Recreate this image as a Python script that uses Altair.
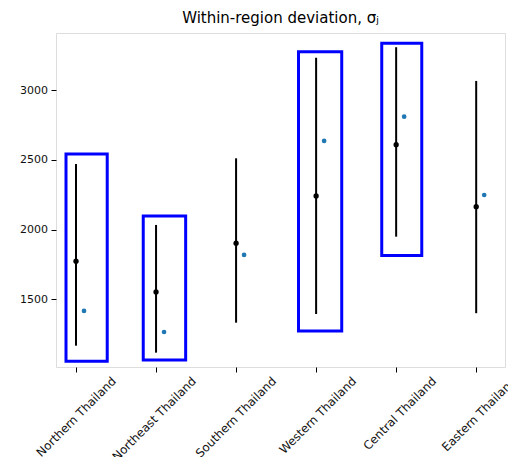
import altair as alt
import pandas as pd

regions = ["Northern Thailand", "Northeast Thailand", "Southern Thailand",
           "Western Thailand", "Central Thailand", "Eastern Thailand"]
means = [1773, 1552, 1902, 2241, 2609, 2164]
lows = [1167, 1117, 1332, 1395, 1949, 1400]
highs = [2470, 2033, 2511, 3233, 3308, 3066]
observed = [1416, 1265, 1818, 2636, 2810, 2248]

box_left = [-0.125, 0.84, 2.78, 3.82]
box_right = [0.39, 1.37, 3.32, 4.32]
box_bottom = [1055, 1065, 1273, 1813]
box_top = [2542, 2098, 3276, 3336]

obs_offset = 0.1

pos = list(range(len(regions)))
df = pd.DataFrame({"pos": pos, "region": regions, "mean": means,
                   "lo": lows, "hi": highs, "obs": observed,
                   "obs_pos": [p + obs_offset for p in pos]})
boxes = pd.DataFrame({"x0": box_left, "x1": box_right,
                      "y0": box_bottom, "y1": box_top})

label_expr = "[" + ",".join("'%s'" % r for r in regions) + "][round(datum.value)]"

xscale = alt.Scale(domain=[-0.25, 5.36], nice=False, zero=False)
yscale = alt.Scale(domain=[1014, 3410], nice=False, zero=False)

font = "DejaVu Sans"
xaxis = alt.Axis(values=pos, labelExpr=label_expr, title=None, grid=False,
                 domain=False, tickSize=5, tickColor="#000", labelPadding=3,
                 labelAngle=-45, labelAlign="right", labelBaseline="top",
                 labelOffset=34, labelFont=font, labelFontSize=11.8,
                 labelColor="#111", labelOverlap=False, labelBound=False)
yaxis = alt.Axis(values=[1500, 2000, 2500, 3000], format="d", title=None, grid=False,
                 domain=False, tickSize=5, tickColor="#000", labelPadding=3.5,
                 labelFont=font, labelFontSize=11, labelColor="#111")

base = alt.Chart(df)

bars = base.mark_rule(color="black", strokeWidth=2).encode(
    x=alt.X("pos:Q", scale=xscale, axis=xaxis),
    y=alt.Y("lo:Q", scale=yscale, axis=yaxis),
    y2="hi:Q",
)
mean_pts = base.mark_point(filled=True, color="black", size=28, opacity=1).encode(
    x=alt.X("pos:Q", scale=xscale),
    y=alt.Y("mean:Q", scale=yscale),
)
obs_pts = base.mark_point(filled=True, color="#1f77b4", size=22, opacity=1).encode(
    x=alt.X("obs_pos:Q", scale=xscale),
    y=alt.Y("obs:Q", scale=yscale),
)
rects = alt.Chart(boxes).mark_rect(fillOpacity=0, stroke="#0000ff", strokeWidth=3).encode(
    x=alt.X("x0:Q", scale=xscale),
    x2="x1:Q",
    y=alt.Y("y0:Q", scale=yscale),
    y2="y1:Q",
)

chart = alt.layer(bars, mean_pts, obs_pts, rects).properties(
    width=449, height=334,
    autosize=alt.AutoSizeParams(type="none"),
    padding={"left": 48, "top": 25, "right": 3, "bottom": 90},
    title=alt.TitleParams("Within-region deviation, σⱼ", font=font, fontSize=15,
                          fontWeight="normal", color="#000", offset=7),
).configure_view(stroke="#222", strokeWidth=1).configure(background="white")

chart.save("out.html", embed_options={"renderer": "svg", "actions": False})
